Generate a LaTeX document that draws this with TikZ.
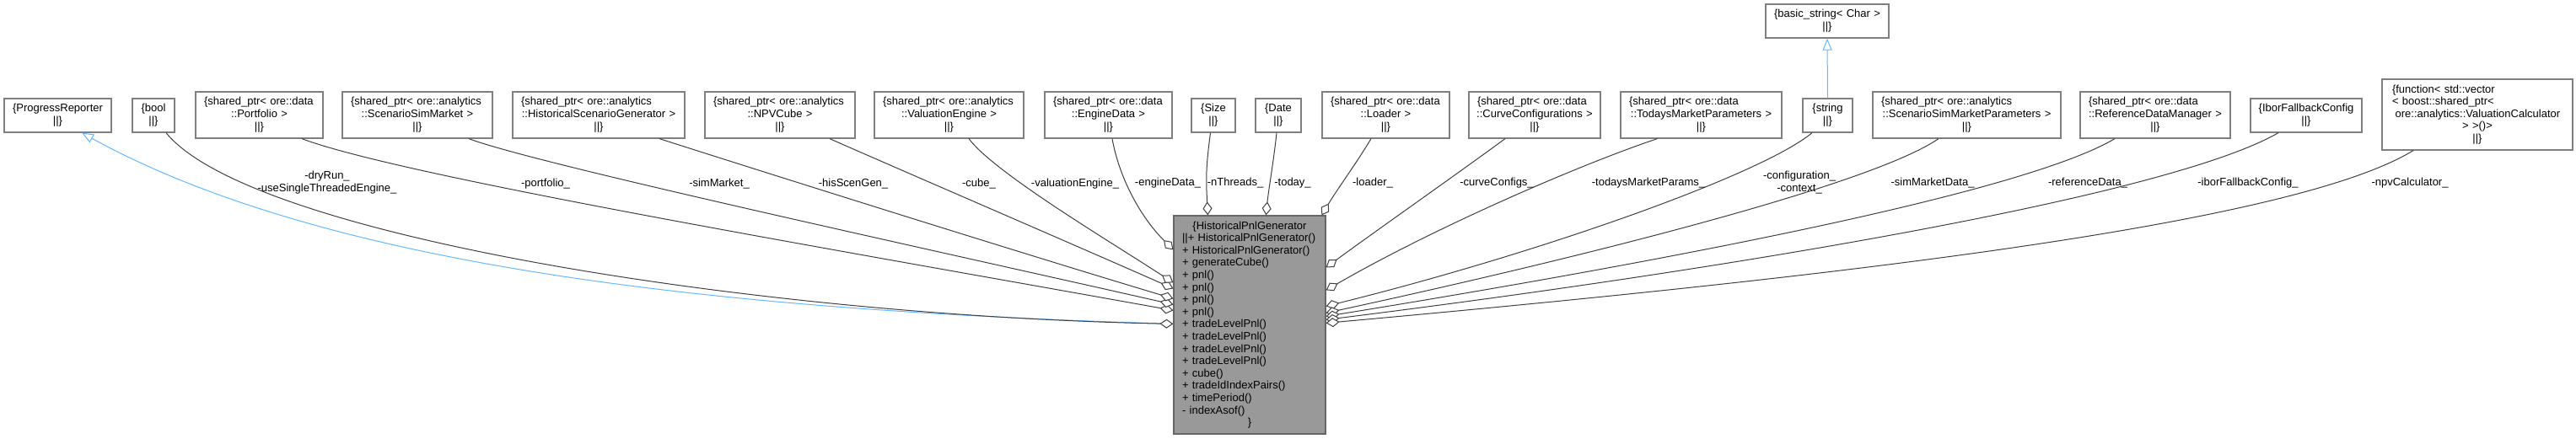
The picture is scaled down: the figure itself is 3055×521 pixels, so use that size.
\documentclass[tikz,border=0pt]{standalone}
\usepackage{fontspec}
\setmainfont{Liberation Sans}
\usetikzlibrary{arrows.meta,calc}
\definecolor{edgegray}{HTML}{404040}
\definecolor{boxgray}{HTML}{7F7F7F}
\definecolor{maingray}{HTML}{999999}
\definecolor{mainborder}{HTML}{666666}
\definecolor{inhblue}{HTML}{63B8FF}
\hyphenpenalty=10000
\exhyphenpenalty=10000
\newcommand\cl[1]{\makebox[\hsize][c]{#1}}
\begin{document}
\begin{tikzpicture}[x=1pt,y=-1pt,
  box/.style={draw=boxgray, line width=1.2pt, fill=white, inner xsep=10pt, inner ysep=0pt,
    align=left, font=\fontsize{13}{15}\selectfont},
  mainbox/.style={draw=mainborder, line width=1.2pt, fill=maingray, inner xsep=10pt, inner ysep=0pt,
    align=left, font=\fontsize{13}{14.6}\selectfont, text width=160pt, minimum height=259pt},
  lbl/.style={inner sep=0pt, align=center, font=\fontsize{13}{15}\selectfont},
  uses/.style={draw=edgegray, line width=1pt, -{Diamond[open, fill=white, length=16pt, width=11pt]}},
  inh/.style={draw=inhblue, line width=1pt, -{Triangle[open, fill=white, length=14pt, width=11pt]}}]
\fill[white] (0,0) rectangle (3055,521);
\useasboundingbox (0,0) rectangle (3055,521);

% main node
\node[mainbox] (main) at (1482,385.5) {\cl{\{HistoricalPnlGenerator}\\
\mbox{||+ HistoricalPnlGenerator()}\\
+ HistoricalPnlGenerator()\\
+ generateCube()\\
+ pnl()\\
+ pnl()\\
+ pnl()\\
+ pnl()\\
+ tradeLevelPnl()\\
+ tradeLevelPnl()\\
+ tradeLevelPnl()\\
+ tradeLevelPnl()\\
+ cube()\\
+ tradeIdIndexPairs()\\
+ timePeriod()\\
- indexAsof()\\
\cl{\}}};

% top boxes
\node[box, inner xsep=9pt, text width=109pt, minimum height=40pt] (pr) at (68.5,137) {\cl{\{ProgressReporter}\\\cl{||\}}};
\node[box, text width=30pt, minimum height=40pt] (bool) at (182,137) {\cl{\{bool}\\\cl{||\}}};
\node[box, text width=131pt, minimum height=55pt] (portfolio) at (307.5,136.5) {\{shared\_ptr< ore::data\\\cl{::Portfolio >}\\\cl{||\}}};
\node[box, text width=158pt, minimum height=55pt] (simmarket) at (495,136.5) {\{shared\_ptr< ore::analytics\\\cl{::ScenarioSimMarket >}\\\cl{||\}}};
\node[box, text width=184pt, minimum height=55pt] (hisgen) at (710,136.5) {\{shared\_ptr< ore::analytics\\\cl{::HistoricalScenarioGenerator >}\\\cl{||\}}};
\node[box, text width=158pt, minimum height=55pt] (npvcube) at (925,136.5) {\{shared\_ptr< ore::analytics\\\cl{::NPVCube >}\\\cl{||\}}};
\node[box, text width=157pt, minimum height=55pt] (valeng) at (1125.5,136.5) {\{shared\_ptr< ore::analytics\\\cl{::ValuationEngine >}\\\cl{||\}}};
\node[box, text width=131pt, minimum height=55pt] (enginedata) at (1314.5,136.5) {\{shared\_ptr< ore::data\\\cl{::EngineData >}\\\cl{||\}}};
\node[box, text width=32pt, minimum height=40pt] (size) at (1439,137) {\cl{\{Size}\\\cl{||\}}};
\node[box, text width=34pt, minimum height=40pt] (date) at (1516,137) {\cl{\{Date}\\\cl{||\}}};
\node[box, text width=131pt, minimum height=55pt] (loader) at (1643.5,136.5) {\{shared\_ptr< ore::data\\\cl{::Loader >}\\\cl{||\}}};
\node[box, text width=136pt, minimum height=55pt] (curveconf) at (1820,136.5) {\{shared\_ptr< ore::data\\\cl{::CurveConfigurations >}\\\cl{||\}}};
\node[box, text width=171pt, minimum height=55pt] (todays) at (2017.5,136.5) {\{shared\_ptr< ore::data\\\cl{::TodaysMarketParameters >}\\\cl{||\}}};
\node[box, text width=39pt, minimum height=40pt] (string) at (2167.5,137) {\cl{\{string}\\\cl{||\}}};
\node[box, text width=126pt, minimum height=40pt] (basic) at (2167,25) {\cl{\{basic\_string< Char >}\\\cl{||\}}};
\node[box, text width=203pt, minimum height=55pt] (ssmparams) at (2332.5,136.5) {\{shared\_ptr< ore::analytics\\\cl{::ScenarioSimMarketParameters >}\\\cl{||\}}};
\node[box, text width=158pt, minimum height=55pt] (refdata) at (2556,136.5) {\{shared\_ptr< ore::data\\\cl{::ReferenceDataManager >}\\\cl{||\}}};
\node[box, text width=112pt, minimum height=40pt] (ibor) at (2735,137) {\cl{\{IborFallbackConfig}\\\cl{||\}}};
\node[box, inner xsep=12pt, text width=202pt, minimum height=84pt, font=\fontsize{13}{14.6}\selectfont] (func) at (2938,136) {\{function< std::vector\\< boost::shared\_ptr<\\\hspace*{3.6pt}ore::analytics::ValuationCalculator\\\cl{> >()>}\\\cl{||\}}};

% inheritance
\draw[inh] ($(main.north west)+(0,129)$) .. controls +(-507,-15) and +(300,165) .. ([xshift=28.5pt]pr.south);
\draw[inh] (string.north) -- (basic.south);

% left side usage edges
\draw[uses] ([xshift=15pt]bool.south) .. controls +(100,123) and +(-492,-10) .. ($(main.north west)+(0,129)$);
\draw[uses] ([xshift=50.5pt]portfolio.south) .. controls +(120,45) and +(-400,-72) .. ($(main.north west)+(0,113)$);
\draw[uses] ([xshift=61pt]simmarket.south) .. controls +(80,30) and +(-300,-68) .. ($(main.north west)+(0,106)$);
\draw[uses] ([xshift=72pt]hisgen.south) .. controls +(100,32) and +(-200,-60) .. ($(main.north west)+(0,99)$);
\draw[uses] ([xshift=59pt]npvcube.south) .. controls +(70,31) and +(-120,-53) .. ($(main.north west)+(0,87)$);
\draw[uses] ([xshift=23.5pt]valeng.south) .. controls +(30,40) and +(-80,-52) .. ($(main.north west)+(0,80)$);
\draw[uses] ([xshift=4.5pt]enginedata.south) .. controls +(8,45) and +(-40,-40) .. ($(main.north west)+(0,41)$);

% top edges
\draw[uses] ([xshift=-3.5pt]size.south) .. controls +(-6,45) and +(-2,-40) .. ($(main.north west)+(41,0)$);
\draw[uses] ([xshift=-2pt]date.south) .. controls +(-3,30) and +(3,-30) .. ($(main.north west)+(110,0)$);
\draw[uses] ([xshift=-17.5pt]loader.south) .. controls +(-18,30) and +(18,-30) .. ($(main.north west)+(176,0)$);

% right side edges
\draw[uses] ([xshift=-35pt]curveconf.south) .. controls +(-60,44) and +(60,-44) .. ($(main.north east)+(0,62)$);
\draw[uses] ([xshift=-52pt]todays.south) .. controls +(-90,30) and +(130,-75) .. ($(main.north east)+(0,89)$);
\draw[uses] ([xshift=-18.5pt]string.south) .. controls +(-60,50) and +(250,-62) .. ($(main.north east)+(0,108)$);
\draw[uses] ([xshift=-33.5pt]ssmparams.south) .. controls +(-80,55) and +(300,-65) .. ($(main.north east)+(0,116)$);
\draw[uses] ([xshift=-48pt]refdata.south) .. controls +(-110,65) and +(400,-65) .. ($(main.north east)+(0,120)$);
\draw[uses] ([xshift=-33pt]ibor.south) .. controls +(-130,75) and +(480,-60) .. ($(main.north east)+(0,124)$);
\draw[uses] ([xshift=-76pt]func.south) .. controls +(-150,92) and +(550,-50) .. ($(main.north east)+(0,128)$);

% labels
\node[lbl] (l1) at (388,216.5) {-dryRun\_\\-useSingleThreadedEngine\_};
\node[lbl] (l2) at (647,218) {-portfolio\_};
\node[lbl] (l3) at (853,218) {-simMarket\_};
\node[lbl] (l4) at (1012,218) {-hisScenGen\_};
\node[lbl] (l5) at (1161,218) {-cube\_};
\node[lbl] (l6) at (1275,218) {-valuationEngine\_};
\node[lbl] (l7) at (1385,217) {-engineData\_};
\node[lbl] (l8) at (1465,217) {-nThreads\_};
\node[lbl] (l9) at (1533,217) {-today\_};
\node[lbl] (l10) at (1628,217) {-loader\_};
\node[lbl] (l11) at (1775,217) {-curveConfigs\_};
\node[lbl] (l12) at (1955,217) {-todaysMarketParams\_};
\node[lbl] (l13) at (2134,216.5) {-configuration\_\\-context\_};
\node[lbl] (l14) at (2292,217) {-simMarketData\_};
\node[lbl] (l15) at (2476,217) {-referenceData\_};
\node[lbl] (l16) at (2666,217) {-iborFallbackConfig\_};
\node[lbl] (l17) at (2858,217) {-npvCalculator\_};
\end{tikzpicture}
\end{document}
